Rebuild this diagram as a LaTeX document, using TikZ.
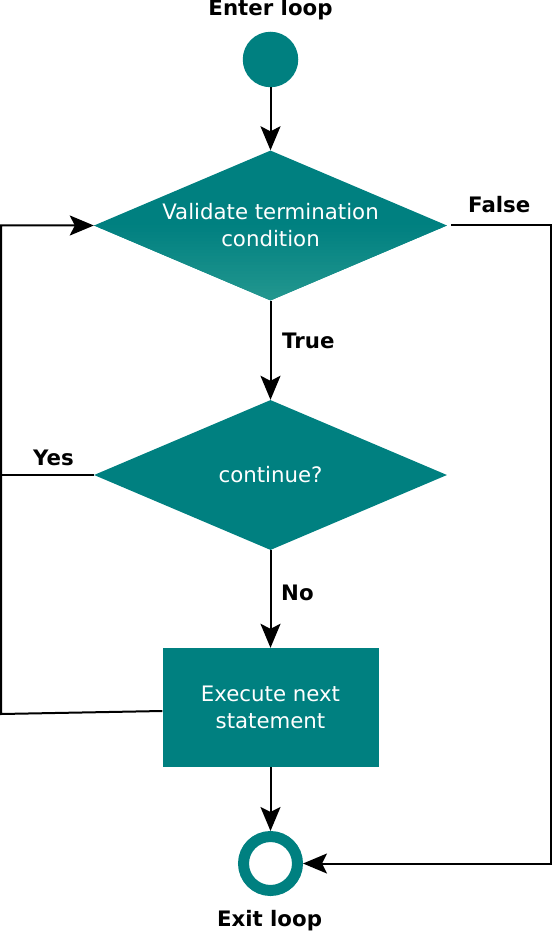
\documentclass[tikz,border=0pt]{standalone}
\usepackage{fontspec}
\setmainfont{DejaVu Sans}
\usepackage{xcolor}
\usetikzlibrary{shapes.geometric,arrows.meta}
\definecolor{loopteal}{HTML}{008080}
\definecolor{looptealpale}{HTML}{23978F}

\begin{document}
\begin{tikzpicture}[x=1pt,y=-1pt]
\def\fs{21.3}
\def\cx{270.5}
\tikzset{
	box text/.style={text=white,font=\fontsize{\fs}{27}\selectfont,align=center},
	test/.style={box text,diamond,fill=loopteal,minimum width=353pt,minimum height=150pt,aspect=2.36,inner sep=0pt},
	fade/.style={path picture={
		\foreach \k [evaluate=\k as \pct using 4*\k+2, evaluate=\k as \dy using -3*\k] in {0,...,24}
			\fill[looptealpale!\pct!loopteal] ([yshift=\dy pt]path picture bounding box.west) rectangle ([yshift=\dy pt-3.4pt]path picture bounding box.east);
	}},
	stmt/.style={box text,rectangle,fill=loopteal,minimum width=216pt,minimum height=119pt},
	tag/.style={font=\fontsize{\fs}{25}\selectfont\bfseries,anchor=base west,inner sep=0pt},
	flow/.style={line width=2pt,-{Stealth[length=24pt,width=20pt,inset=5pt]}},
	rail/.style={line width=2pt}
}
\useasboundingbox (0,0) rectangle (552,933);
\node[circle,fill=loopteal,minimum size=55.5pt,inner sep=0pt] (enter) at (\cx,59.5) {};
\node[test,fade] (check) at (\cx,225.5) {Validate termination\\condition};
\node[test] (cont) at (\cx,475) {continue?};
\node[stmt] (exec) at (\cx,707.5) {Execute next\\statement};
\node[circle,draw=loopteal,line width=11pt,fill=white,minimum size=54pt,inner sep=0pt] (exit) at (\cx,863.5) {};
\coordinate (railtop) at (1,225.5);
\coordinate (railmid) at (1,475);
\coordinate (railbot) at (1,714);
\coordinate (falsetop) at (551,225.5);
\coordinate (falsebot) at (551,863.5);
\draw[flow] (enter) -- (check);
\draw[flow] (check) -- (cont);
\draw[flow] (cont) -- (exec);
\draw[flow] (exec) -- (exit);
\draw[flow] ([yshift=-3.5pt]exec.west) -- (railbot) -- (railtop) -- (check.west);
\draw[rail] (cont.west) -- (railmid);
\draw[flow] ([xshift=4pt]check.east) -- (falsetop) -- (falsebot) -- (exit.east);
\node[tag,anchor=base] (entertag) at (\cx,16) {Enter loop};
\node[tag] (falsetag) at (468,213) {False};
\node[tag] (truetag) at (282,348) {True};
\node[tag] (yestag) at (33,465) {Yes};
\node[tag] (notag) at (281,600) {No};
\node[tag,anchor=base] (exittag) at (269.5,926.5) {Exit loop};
\end{tikzpicture}
\end{document}
